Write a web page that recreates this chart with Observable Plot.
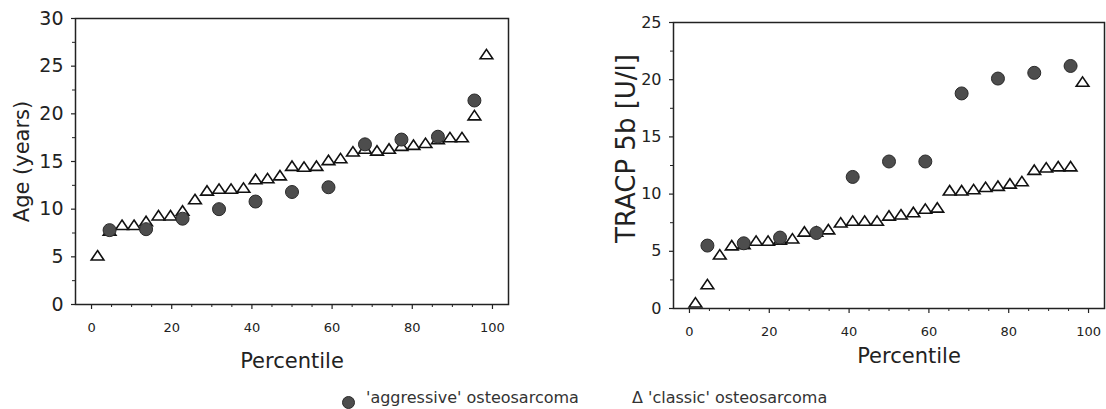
<!DOCTYPE html>
<html><head><meta charset="utf-8">
<script src="https://cdn.jsdelivr.net/npm/d3@7"></script>
<script src="https://cdn.jsdelivr.net/npm/@observablehq/plot@0.6"></script>
<style>
html,body{margin:0;padding:0;background:#fff;}
#wrap{position:relative;width:1106px;height:409px;overflow:hidden;font-family:"DejaVu Sans",sans-serif;color:#222;}
#left{position:absolute;left:0;top:0;}
#right{position:absolute;left:566px;top:0;}
.leg{position:absolute;top:389px;font-size:16px;line-height:18px;white-space:nowrap;color:#333;}
.legdot{position:absolute;top:396px;width:11px;height:11px;border-radius:50%;background:#4d4d4d;border:1px solid #2a2a2a;}
</style></head><body>
<div id="wrap"><div id="left"></div><div id="right"></div></div>
<script>
// ---- data ----
const seriesNames = ["'aggressive' osteosarcoma", "'classic' osteosarcoma"];
const classicPct = [1.5, 4.5, 7.6, 10.6, 13.6, 16.7, 19.7, 22.7, 25.8, 28.8, 31.8, 34.8, 37.9, 40.9, 43.9, 47.0, 50.0, 53.0, 56.1, 59.1, 62.1, 65.2, 68.2, 71.2, 74.2, 77.3, 80.3, 83.3, 86.4, 89.4, 92.4, 95.5, 98.5];
const aggressivePct = [4.5, 13.6, 22.7, 31.8, 40.9, 50.0, 59.1, 68.2, 77.3, 86.4, 95.5];
const classicAge = [5.0, 7.6, 8.2, 8.2, 8.6, 9.2, 9.2, 9.7, 10.9, 11.8, 12.0, 12.0, 12.1, 13.0, 13.1, 13.4, 14.4, 14.3, 14.4, 15.0, 15.2, 15.9, 16.2, 16.0, 16.2, 16.5, 16.6, 16.8, 17.2, 17.4, 17.4, 19.7, 26.1];
const aggressiveAge = [7.8, 7.9, 9.0, 10.0, 10.8, 11.8, 12.3, 16.8, 17.3, 17.6, 21.4];
const classicTracp = [0.4, 2.0, 4.6, 5.4, 5.5, 5.8, 5.8, 5.9, 6.0, 6.6, 6.6, 6.8, 7.4, 7.55, 7.55, 7.55, 8.0, 8.1, 8.3, 8.6, 8.7, 10.2, 10.2, 10.3, 10.5, 10.6, 10.8, 11.0, 12.0, 12.2, 12.3, 12.3, 19.7];
const aggressiveTracp = [5.5, 5.7, 6.2, 6.6, 11.5, 12.85, 12.85, 18.8, 20.1, 20.6, 21.2];
const xTicks = [0, 20, 40, 60, 80, 100];
const xMinorTicks = [5, 10, 15, 25, 30, 35, 45, 50, 55, 65, 70, 75, 85, 90, 95];
const ageTicks = [0, 5, 10, 15, 20, 25, 30];
const ageMinorTicks = [2.5, 7.5, 12.5, 17.5, 22.5, 27.5];
const tracpTicks = [0, 5, 10, 15, 20, 25];
const tracpMinorTicks = [2.5, 7.5, 12.5, 17.5, 22.5];
const xLabel = "Percentile";
const ageLabel = "Age (years)";
const tracpLabel = "TRACP 5b [U/l]";

// open triangle, a little flatter than equilateral
const triangle = {
  draw(ctx, size) {
    const r = Math.sqrt(size / Math.PI);
    const hw = 1.35 * r, h = 2.0 * r;
    ctx.moveTo(0, -h * 2 / 3);
    ctx.lineTo(hw, h / 3);
    ctx.lineTo(-hw, h / 3);
    ctx.closePath();
  }
};

function panel(o) {
  const classic = o.classicY.map((v, i) => ({x: classicPct[i], y: v}));
  const aggr = o.aggY.map((v, i) => ({x: aggressivePct[i], y: v}));
  return Plot.plot({
    width: o.width, height: o.height,
    marginLeft: o.ml, marginRight: o.mr, marginTop: o.mt, marginBottom: o.mb,
    x: {domain: [-4, 104]},
    y: {domain: o.yDomain},
    style: {fontFamily: "DejaVu Sans", color: "#222", background: "transparent", overflow: "visible"},
    marks: [
      Plot.frame({stroke: "#222", strokeWidth: 1.5}),
      Plot.axisX({ticks: xTicks, tickSize: 5, tickPadding: 13, fontSize: 13, label: null, strokeWidth: 1.2}),
      Plot.axisX({ticks: xMinorTicks, tickSize: 3, tickFormat: () => "", label: null}),
      Plot.axisY({ticks: o.yTicks, tickSize: 4, tickPadding: 8, fontSize: o.yFont, label: null, strokeWidth: 1.2}),
      Plot.axisY({ticks: o.yMinor, tickSize: 3, tickFormat: () => "", label: null}),
      Plot.dot(classic, {x: "x", y: "y", symbol: triangle, r: 4.7, stroke: "#111", strokeWidth: 1.6, fill: "white"}),
      Plot.dot(aggr, {x: "x", y: "y", r: 6.5, fill: "#4d4d4d", stroke: "#2a2a2a", strokeWidth: 1}),
      Plot.text([xLabel], {text: d => d, frameAnchor: "bottom", textAnchor: "middle", lineAnchor: "middle", dx: o.xlDx, dy: o.xlDy, fontSize: 21, fill: "#222"}),
      Plot.text([o.yLabel], {text: d => d, frameAnchor: "left", textAnchor: "middle", lineAnchor: "middle", rotate: -90, dx: o.ylDx, dy: o.ylDy, fontSize: o.ylFont, fill: "#222"})
    ]
  });
}

document.getElementById("left").append(panel({
  width: 520, height: 375, ml: 75, mr: 12, mt: 18, mb: 71,
  yDomain: [0, 30], yTicks: ageTicks, yMinor: ageMinorTicks, yFont: 19,
  classicY: classicAge, aggY: aggressiveAge,
  yLabel: ageLabel, ylFont: 21, ylDx: -53, ylDy: 0, xlDx: 0, xlDy: 57
}));
document.getElementById("right").append(panel({
  width: 540, height: 375, ml: 107, mr: 2, mt: 22, mb: 67,
  yDomain: [0, 25], yTicks: tracpTicks, yMinor: tracpMinorTicks, yFont: 16,
  classicY: classicTracp, aggY: aggressiveTracp,
  yLabel: tracpLabel, ylFont: 26, ylDx: -47, ylDy: -17, xlDx: 20, xlDy: 48
}));

// legend
const wrap = document.getElementById("wrap");
const dot = document.createElement("div");
dot.className = "legdot"; dot.style.left = "342px";
wrap.append(dot);
const t1 = document.createElement("div");
t1.className = "leg"; t1.style.left = "366px"; t1.textContent = seriesNames[0];
wrap.append(t1);
const t2 = document.createElement("div");
t2.className = "leg"; t2.style.left = "632px"; t2.textContent = "Δ " + seriesNames[1];
wrap.append(t2);
</script>
</body></html>
